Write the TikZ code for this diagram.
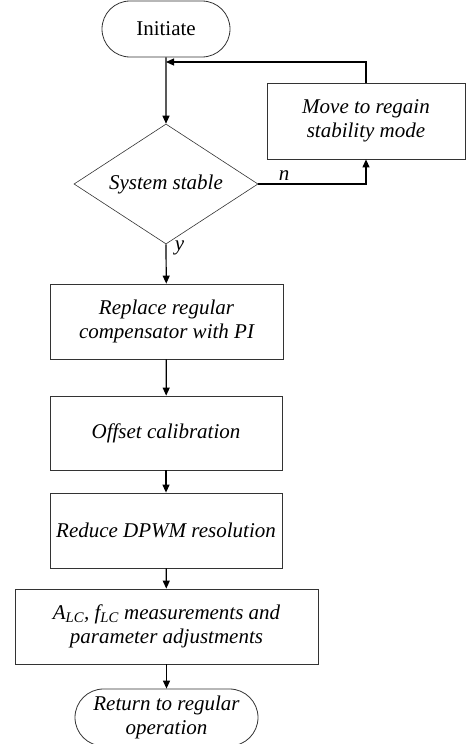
\documentclass[tikz,border=0pt]{standalone}
\usepackage{fontspec}
\setmainfont{Liberation Serif}
\usetikzlibrary{shapes.geometric,shapes.misc,arrows.meta}

\begin{document}
\begin{tikzpicture}[x=1pt,y=-1pt,
	font=\fontsize{21}{24}\selectfont,
	box/.style={draw=black!80,line width=0.8pt,align=center,inner sep=0pt,font=\fontsize{21}{24}\selectfont\itshape},
	term/.style={rounded rectangle,draw=black!80,line width=0.8pt,align=center,inner sep=0pt},
	flow/.style={line width=1.2pt,-{Triangle[length=8pt,width=7pt]}}]
			\useasboundingbox (0,0) rectangle (466,744);

			% start and test
			\node[term,minimum width=128pt,minimum height=56pt] (init) at (166,29) {Initiate};
			\node[diamond,draw=black!80,line width=0.6pt,inner sep=0pt,aspect=1.53,
				minimum width=184pt,minimum height=120pt,font=\fontsize{21}{24}\selectfont\itshape]
				(chk) at (166,184) {System stable};
			\node[box,minimum width=198pt,minimum height=76pt] (move) at (366,121) {Move to regain\\stability mode};
			\coordinate (join) at (166,62);

			% main steps
			\node[box,minimum width=233pt,minimum height=75pt] (repl) at (166.5,321.5) {Replace regular\\compensator with PI};
			\node[box,minimum width=232pt,minimum height=74pt] (offs) at (166,433) {Offset calibration};
			\node[box,minimum width=232pt,minimum height=75pt] (dpwm) at (166,530.5) {Reduce DPWM resolution};
			\node[box,minimum width=303pt,minimum height=75pt] (meas) at (166.5,626.5) {A\textsubscript{LC}, f\textsubscript{LC} measurements and\\parameter adjustments};
			\node[term,minimum width=183pt,minimum height=57pt,font=\fontsize{21}{24}\selectfont\itshape] (ret) at (166.5,717.5) {Return to regular\\operation};

			% connectors
			\draw[flow] (init) -- (chk);
			\draw[flow] (chk.east) -| node[pos=0.12,above,font=\fontsize{21}{24}\selectfont\itshape] {n} (move.south);
			\draw[flow] (move.north) |- (join);
			\draw[flow] (chk.south) -- node[pos=0.1,right=5pt,font=\fontsize{21}{24}\selectfont\itshape] {y} (repl);
			\draw[flow] (repl) -- (offs);
			\draw[flow] (offs) -- (dpwm);
			\draw[flow] (dpwm) -- (meas);
			\draw[flow] (meas) -- (ret);
		\end{tikzpicture}
\end{document}
